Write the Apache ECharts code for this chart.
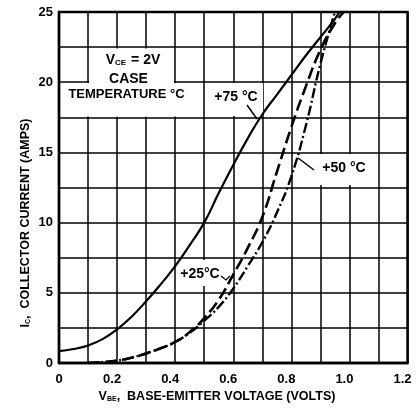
<!DOCTYPE html>
<html>
<head>
<meta charset="utf-8">
<script src="https://cdn.jsdelivr.net/npm/echarts@6/dist/echarts.min.js"></script>
<style>
html,body{margin:0;padding:0;background:#fff;}
#c{width:417px;height:408px;}
</style>
</head>
<body>
<div id="c"></div>
<script>
// ---- data ----
const xTickValues = [0, 0.2, 0.4, 0.6, 0.8, 1.0, 1.2];
const xTickLabels = ['0', '0.2', '0.4', '0.6', '0.8', '1.0', '1.2'];
const yTickValues = [0, 5, 10, 15, 20, 25];
const yTickLabels = ['0', '5', '10', '15', '20', '25'];

// +75 °C (solid)
const vbe75 = [0, 0.05, 0.1, 0.15, 0.2, 0.25, 0.3, 0.35, 0.4, 0.45, 0.5, 0.55, 0.6, 0.65, 0.7, 0.75, 0.8, 0.85, 0.9, 0.95, 0.965];
const ic75  = [0.85, 1.0, 1.25, 1.7, 2.4, 3.3, 4.4, 5.6, 6.9, 8.4, 10.0, 12.1, 14.1, 16.0, 17.7, 19.1, 20.5, 21.9, 23.2, 24.5, 25];
// +25 °C (dashed)
const vbe25 = [0.1, 0.15, 0.2, 0.25, 0.3, 0.35, 0.4, 0.45, 0.5, 0.55, 0.6, 0.65, 0.7, 0.75, 0.8, 0.85, 0.9, 0.95, 0.98];
const ic25  = [0, 0.06, 0.17, 0.38, 0.68, 1.05, 1.5, 2.2, 3.2, 4.5, 6.3, 8.2, 10.4, 13.6, 16.8, 19.7, 22.3, 24.2, 25];
// +50 °C (dash-dot)
const vbe50 = [0.1, 0.15, 0.2, 0.25, 0.3, 0.35, 0.4, 0.45, 0.5, 0.55, 0.6, 0.65, 0.7, 0.75, 0.8, 0.85, 0.9, 0.95];
const ic50  = [0, 0.06, 0.17, 0.38, 0.68, 1.05, 1.5, 2.15, 3.0, 4.0, 5.3, 6.9, 8.6, 10.7, 13.3, 16.9, 21.3, 25];

const FONT = '"Liberation Sans", Arial, sans-serif';
function zip(a, b) { return a.map((v, i) => [v, b[i]]); }
function findLabel(vals, labs, v) {
  const i = vals.findIndex(t => Math.abs(t - v) < 1e-6);
  return i < 0 ? null : { i: i, s: labs[i] };
}

const chart = echarts.init(document.getElementById('c'), null, { renderer: 'canvas' });
const option = {
  animation: false,
  backgroundColor: '#fff',
  grid: { left: 59, right: 9.5, top: 12, bottom: 45, show: true, borderColor: '#000', borderWidth: 2.4, backgroundColor: 'transparent' },
  xAxis: {
    type: 'value', min: 0, max: 1.2, interval: 0.1,
    axisLine: { show: true, lineStyle: { color: '#000', width: 2.4 } },
    axisTick: { show: false },
    splitLine: { show: true, lineStyle: { color: '#000', width: 1.5 } },
    axisLabel: {
      interval: 0, showMinLabel: true, showMaxLabel: true, margin: 10,
      color: '#000', fontFamily: FONT, fontWeight: 'bold', fontSize: 13,
      formatter: function (v) {
        const r = findLabel(xTickValues, xTickLabels, v);
        if (!r) return '';
        return r.i === 0 ? '{z|' + r.s + '}' : '{n|' + r.s + '}';
      },
      rich: {
        z: { fontFamily: FONT, fontWeight: 'bold', fontSize: 13, color: '#000' },
        n: { fontFamily: FONT, fontWeight: 'bold', fontSize: 13, color: '#000', padding: [0, 10, 0, 0] }
      }
    }
  },
  yAxis: {
    type: 'value', min: 0, max: 25, interval: 2.5,
    axisLine: { show: true, lineStyle: { color: '#000', width: 2.4 } },
    axisTick: { show: false },
    splitLine: { show: true, lineStyle: { color: '#000', width: 1.5 } },
    axisLabel: {
      interval: 0, showMinLabel: true, showMaxLabel: true, margin: 6,
      color: '#000', fontFamily: FONT, fontWeight: 'bold', fontSize: 13,
      formatter: function (v) {
        const r = findLabel(yTickValues, yTickLabels, v);
        return r ? r.s : '';
      }
    }
  },
  series: [
    { name: '+75 °C', type: 'line', z: 5, data: zip(vbe75, ic75), showSymbol: false, smooth: 0.5,
      lineStyle: { color: '#000', width: 2.2, type: 'solid', cap: 'round', join: 'round' } },
    { name: '+25°C', type: 'line', z: 5, data: zip(vbe25, ic25), showSymbol: false, smooth: 0.5,
      lineStyle: { color: '#000', width: 2.6, type: [12, 5] } },
    { name: '+50 °C', type: 'line', z: 5, data: zip(vbe50, ic50), showSymbol: false, smooth: 0.5,
      lineStyle: { color: '#000', width: 2.4, type: [10, 3, 2, 3] } }
  ],
  graphic: [
    // white backgrounds of the annotation blocks
    { type: 'rect', z: 3, shape: { x: 89, y: 48.5, width: 85, height: 68 }, style: { fill: '#fff' } },
    { type: 'rect', z: 3, shape: { x: 66, y: 83, width: 120, height: 33.5 }, style: { fill: '#fff' } },
    { type: 'rect', z: 3, shape: { x: 209, y: 83, width: 54, height: 33 }, style: { fill: '#fff' } },
    { type: 'rect', z: 3, shape: { x: 318, y: 154, width: 52, height: 31 }, style: { fill: '#fff' } },
    { type: 'rect', z: 3, shape: { x: 177, y: 260, width: 46, height: 26 }, style: { fill: '#fff' } },
    // texts
    { type: 'text', z: 10, x: 133, y: 60, style: { text: 'V{s|CE} = 2V', align: 'center', verticalAlign: 'middle',
        font: 'bold 14px ' + FONT, fill: '#000', rich: { s: { font: 'bold 8px ' + FONT, fill: '#000', padding: [5, 1, 0, 0] } } } },
    { type: 'text', z: 10, x: 128.5, y: 79, style: { text: 'CASE', align: 'center', verticalAlign: 'middle', font: 'bold 14px ' + FONT, fill: '#000' } },
    { type: 'text', z: 10, x: 126.5, y: 94, style: { text: 'TEMPERATURE °C', align: 'center', verticalAlign: 'middle', font: 'bold 13px ' + FONT, fill: '#000' } },
    { type: 'text', z: 10, x: 236, y: 97, style: { text: '+75 °C', align: 'center', verticalAlign: 'middle', font: 'bold 14px ' + FONT, fill: '#000' } },
    { type: 'text', z: 10, x: 344, y: 168, style: { text: '+50 °C', align: 'center', verticalAlign: 'middle', font: 'bold 14px ' + FONT, fill: '#000' } },
    { type: 'text', z: 10, x: 200, y: 274, style: { text: '+25°C', align: 'center', verticalAlign: 'middle', font: 'bold 14px ' + FONT, fill: '#000' } },
    // leader lines
    { type: 'line', z: 10, shape: { x1: 247, y1: 105, x2: 257, y2: 119 }, style: { stroke: '#000', lineWidth: 1.5 } },
    { type: 'line', z: 10, shape: { x1: 314, y1: 170, x2: 298, y2: 158 }, style: { stroke: '#000', lineWidth: 1.5 } },
    { type: 'polyline', z: 10, shape: { points: [[221, 276], [226, 280], [230, 276]] }, style: { stroke: '#000', lineWidth: 1.3, fill: null } },
    // axis titles
    { type: 'text', z: 10, x: 217, y: 397, style: { text: 'V{s|BE},  BASE-EMITTER VOLTAGE (VOLTS)', align: 'center', verticalAlign: 'middle',
        font: 'bold 12.5px ' + FONT, fill: '#000', rich: { s: { font: 'bold 7px ' + FONT, fill: '#000', padding: [5, 0, 0, 0] } } } },
    { type: 'text', z: 10, x: 26, y: 223, rotation: Math.PI / 2, style: { text: 'I{s|C},  COLLECTOR CURRENT (AMPS)', align: 'center', verticalAlign: 'middle',
        font: 'bold 12.5px ' + FONT, fill: '#000', rich: { s: { font: 'bold 7px ' + FONT, fill: '#000', padding: [5, 0, 0, 0] } } } }
  ]
};
chart.setOption(option);
</script>
</body>
</html>
